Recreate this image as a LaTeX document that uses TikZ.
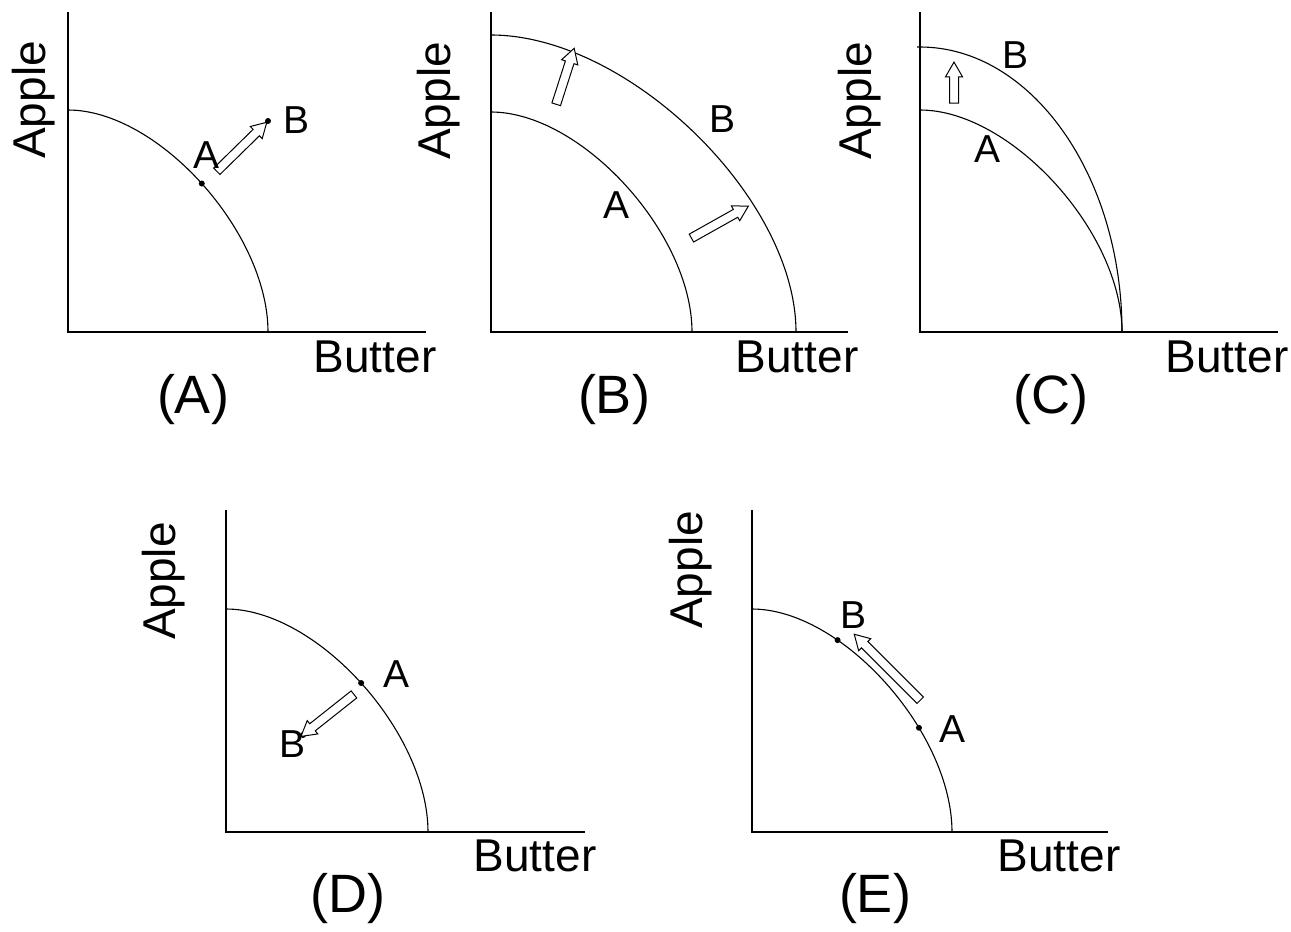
\documentclass[tikz,border=0pt]{standalone}
\usepackage{fontspec}
\setmainfont{Liberation Sans}
\usetikzlibrary{shapes.arrows,calc}
\newcommand\blockarrow[3]{%
  \path let \p1=($(#3)-(#2)$), \n1={atan2(\y1,\x1)}, \n2={veclen(\x1,\y1)} in
    node[barrow, rotate=\n1, minimum height=\n2] (#1) at ($(#2)!0.5!(#3)$) {};}
\begin{document}
\begin{tikzpicture}[x=0.5pt,y=-0.5pt,
  axis/.style={line width=0.9pt},
  ppf/.style={line width=0.55pt},
  ax/.style={font=\fontsize{23}{23}\selectfont, inner sep=0},
  axb/.style={font=\fontsize{23}{23}\selectfont, inner sep=0, anchor=base},
  ttl/.style={font=\fontsize{27}{27}\selectfont, inner sep=0, anchor=base},
  lbl/.style={font=\fontsize{19.5}{20}\selectfont, inner sep=0, anchor=base},
  dot/.style={circle, fill=black, inner sep=0, minimum size=3pt},
  barrow/.style={single arrow, draw=black, fill=white, line width=0.5pt,
    inner xsep=0pt, inner ysep=2pt,
    minimum width=8pt, single arrow head extend=2pt, single arrow tip angle=60},
]
\useasboundingbox[fill=white] (0,0) rectangle (1291,932);

% ---------- Panel A ----------
\draw[axis] (68,12) -- (68,332) -- (426,332);
\draw[ppf] (68,110) .. controls (158,110) and (268,232) .. (268,332)
  node[pos=0.5, dot] (aA) {};
\node[dot] (aB) at (268,121) {};
\coordinate (aT) at (214,174);
\coordinate (aH) at (264,125);
\blockarrow{aArr}{aT}{aH}
\node[lbl] (aLA) at (207,168) {A};
\node[lbl] (aLB) at (297,133) {B};
\node[ax, rotate=90] (aY) at (34,100) {Apple};
\node[axb] (aX) at (375,372) {Butter};
\node[ttl] (aTitle) at (193,413) {(A)};

% ---------- Panel B ----------
\draw[axis] (491,12) -- (491,332) -- (848,332);
\draw[ppf] (491,112) .. controls (581,112) and (692,233) .. (692,332);
\draw[ppf] (491,35) .. controls (628,35) and (796,198) .. (796,332);
\coordinate (bT1) at (555,108);
\coordinate (bH1) at (573,52);
\blockarrow{bArr1}{bT1}{bH1}
\coordinate (bT2) at (688,240);
\coordinate (bH2) at (745,208);
\blockarrow{bArr2}{bT2}{bH2}
\node[lbl] (bLA) at (617,218) {A};
\node[lbl] (bLB) at (722,132) {B};
\node[ax, rotate=90] (bY) at (439,101) {Apple};
\node[axb] (bX) at (797,372) {Butter};
\node[ttl] (bTitle) at (614,413) {(B)};

% ---------- Panel C ----------
\draw[axis] (920,12) -- (920,332) -- (1278,332);
\draw[ppf] (920,110) .. controls (1011,110) and (1122,232) .. (1122,332);
\draw[ppf] (917,47) -- (920,47) .. controls (1031,47) and (1122,175) .. (1122,332);
\coordinate (cT) at (954,107);
\coordinate (cH) at (954,66);
\blockarrow{cArr}{cT}{cH}
\node[lbl] (cLB) at (1015,68) {B};
\node[lbl] (cLA) at (987,162) {A};
\node[ax, rotate=90] (cY) at (860,101) {Apple};
\node[axb] (cX) at (1227,372) {Butter};
\node[ttl] (cTitle) at (1051,413) {(C)};

% ---------- Panel D ----------
\draw[axis] (226,510) -- (226,832) -- (585,832);
\draw[ppf] (226,609) .. controls (317,609) and (428,732) .. (428,832)
  node[pos=0.5, dot] (dA) {};
\node[dot] (dB) at (303,735) {};
\coordinate (dT) at (357,692);
\coordinate (dH) at (304,734);
\blockarrow{dArr}{dT}{dH}
\node[lbl] (dLA) at (397,687) {A};
\node[lbl] (dLB) at (293,757) {B};
\node[ax, rotate=90] (dY) at (164,581) {Apple};
\node[axb] (dX) at (535,871) {Butter};
\node[ttl] (dTitle) at (348,912) {(D)};

% ---------- Panel E ----------
\draw[axis] (752,510) -- (752,832) -- (1108,832);
\draw[ppf] (752,609) .. controls (842,609) and (952,732) .. (952,832)
  node[pos=0.31, dot] (eB) {}
  node[pos=0.66, dot] (eA) {};
\coordinate (eT) at (923,703);
\coordinate (eH) at (857,637);
\blockarrow{eArr}{eT}{eH}
\node[lbl] (eLB) at (853,628) {B};
\node[lbl] (eLA) at (952,742) {A};
\node[ax, rotate=90] (eY) at (691,570) {Apple};
\node[axb] (eX) at (1059,871) {Butter};
\node[ttl] (eTitle) at (875,912) {(E)};
\end{tikzpicture}
\end{document}
